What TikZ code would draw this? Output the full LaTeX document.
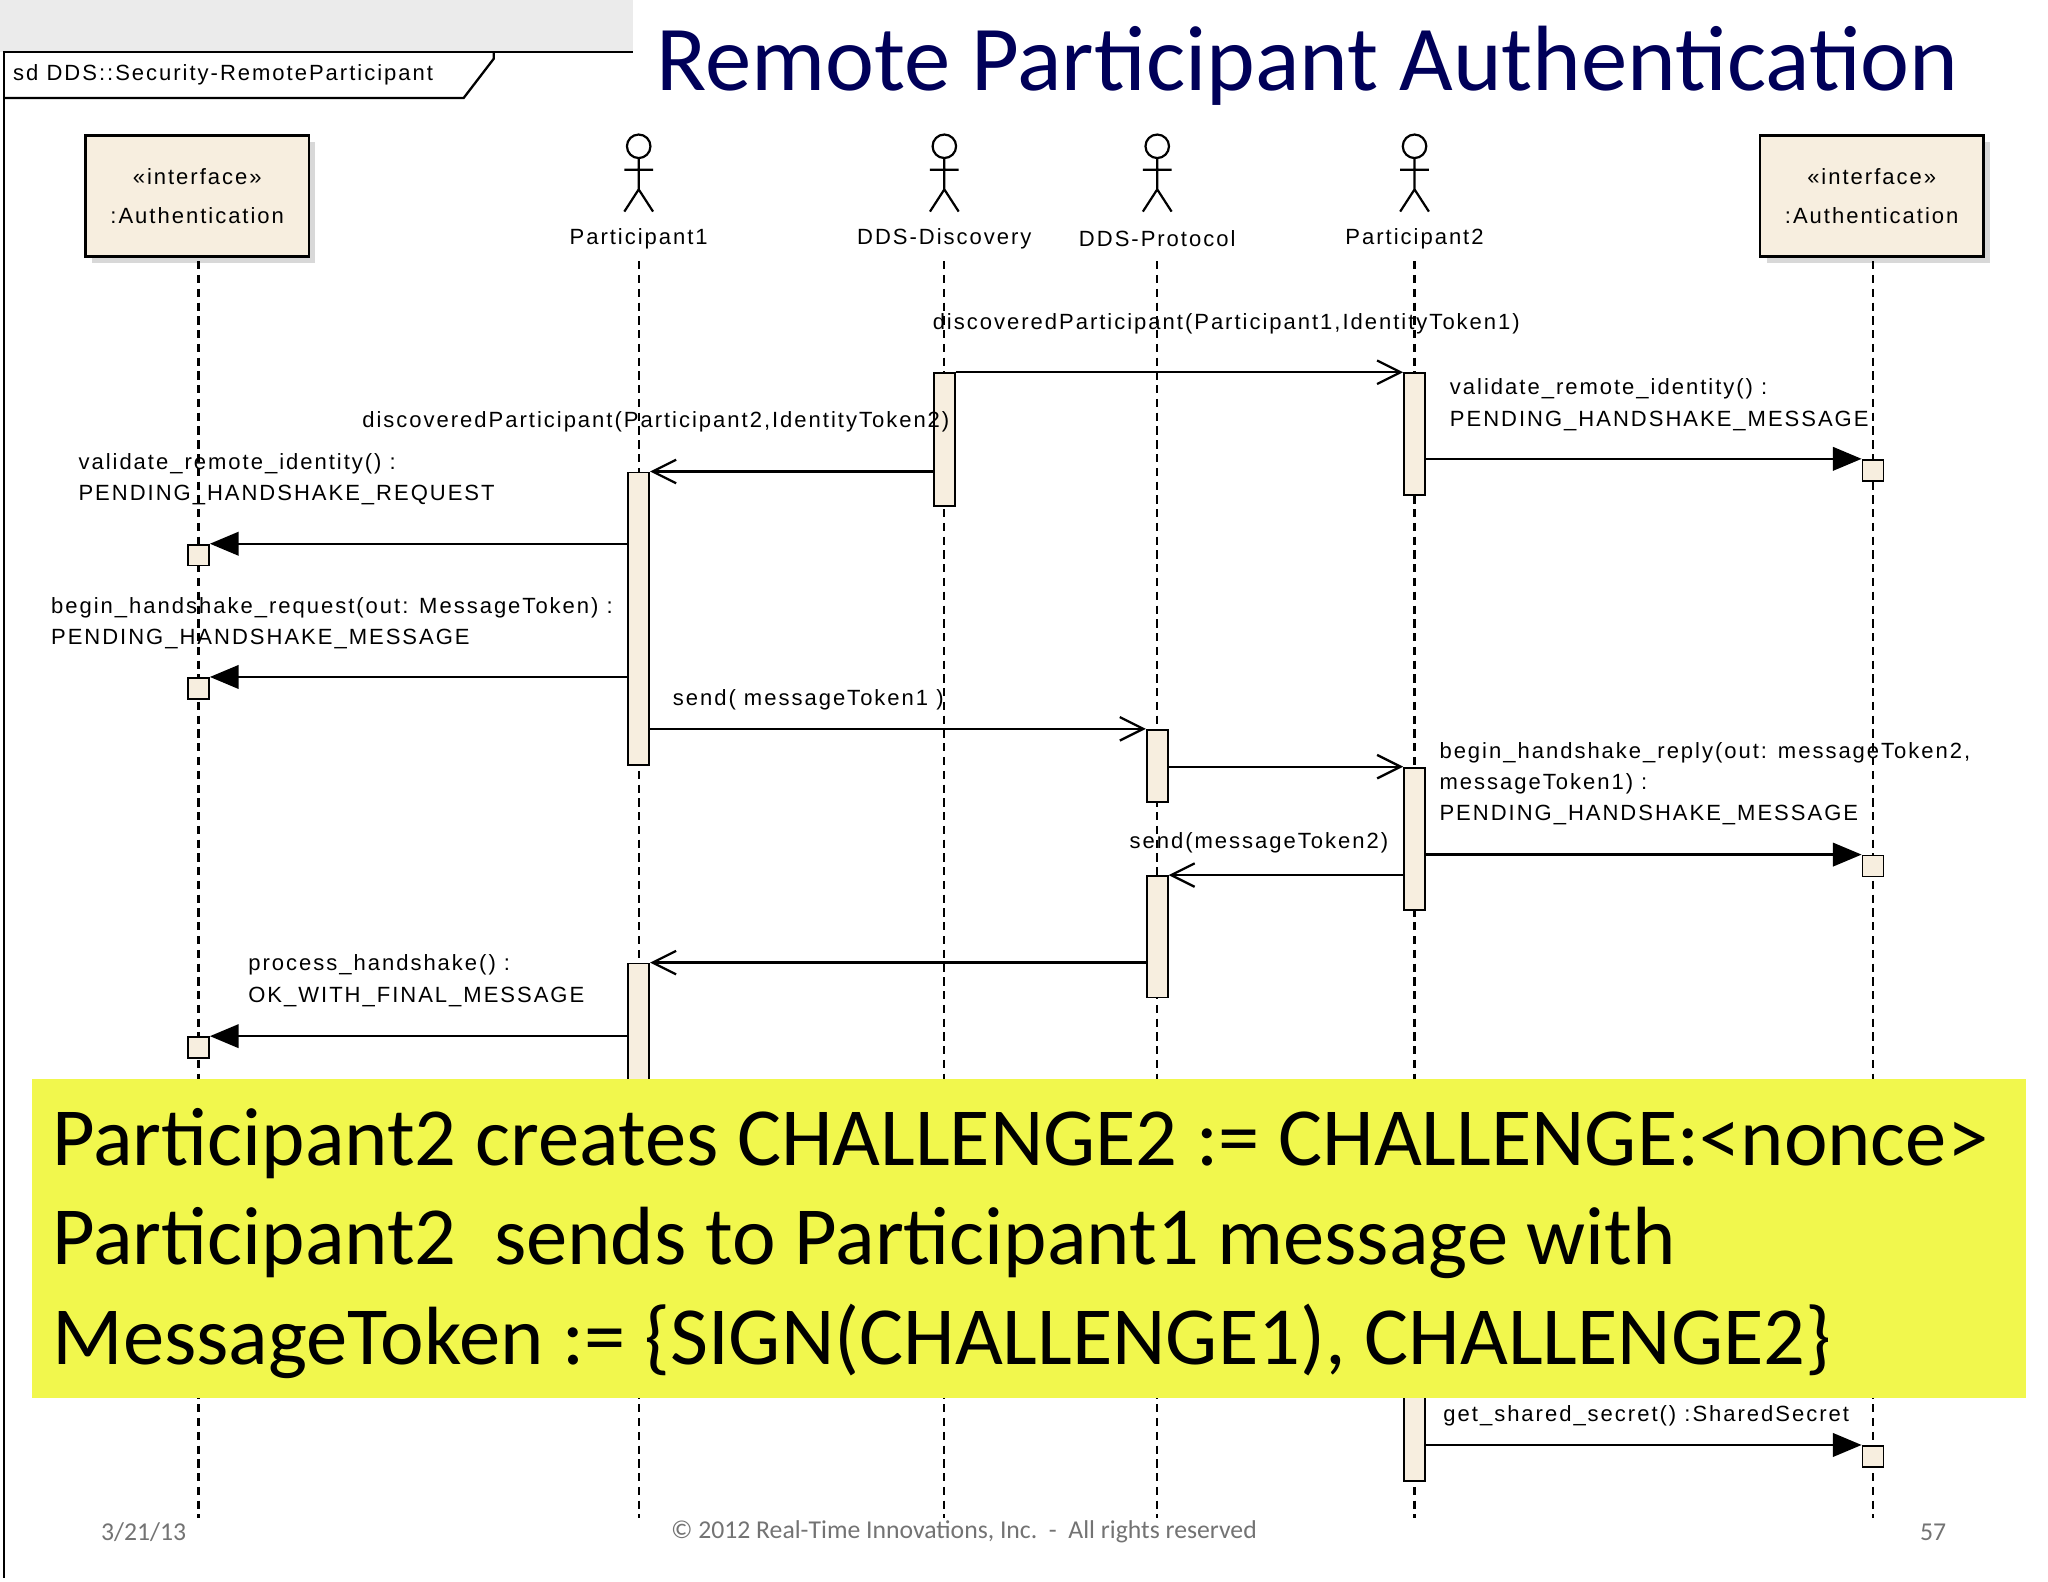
\documentclass[tikz,border=0pt]{standalone}
\usepackage{fontspec}
\setmainfont{Liberation Sans}[LetterSpace=9]
\newfontfamily\titlefont{Carlito}
\usetikzlibrary{arrows.meta,positioning,shadows}
\definecolor{umlfill}{HTML}{F7EEDF}
\definecolor{notefill}{HTML}{F1F74D}
\tikzset{
	lifeline/.style={dash pattern=on 9pt off 6pt, line width=2.4pt},
	actbar/.style={draw, fill=umlfill, line width=2pt, minimum width=0.8cm, inner sep=0pt, anchor=north},
	retbox/.style={draw, fill=umlfill, line width=2pt, minimum size=0.8cm, inner sep=0pt},
	call/.style={line width=2.5pt, -{Straight Barb[length=0.9cm, width=0.9cm]}},
	sync/.style={line width=2.5pt, -{Triangle[length=1.1cm, width=0.9cm]}},
	lbl/.style={font=\fontsize{24}{34}\selectfont, inner sep=0pt, align=left},
	iface/.style={draw, fill=umlfill, line width=3pt, minimum width=8.55cm, minimum height=4.65cm, align=center, font=\fontsize{24}{42}\selectfont, drop shadow={shadow xshift=0.25cm, shadow yshift=-0.25cm, fill=black!30}},
}
\newcommand{\actbar}[4]{\node[actbar, minimum height={(#4-#3)*0.05cm}] (#1) at (#2,#3) {};}
\begin{document}
\begin{tikzpicture}[x=0.05cm, y=-0.05cm]
		\useasboundingbox (0,0) rectangle (1568,1211);
		\fill[white] (0,0) rectangle (1568,1211);
		\fill[black!8] (0,0) rectangle (485,40);
		% Frame
		\draw[line width=2.5pt] (3,1208) -- (3,40) -- (485,40);
		\draw[line width=2.5pt] (3,75) -- (355,75) -- (378,45) -- (378,40);
		\node[lbl, anchor=west] (Frame) at (10,57) {sd DDS::Security-RemoteParticipant};
		\node[font=\titlefont\fontsize{101}{105}\selectfont, text=blue!35!black, anchor=center] (Title) at (1001,50) {Remote Participant Authentication};
		
		% Lifeline heads
		\node[iface] (Auth1) at (151,150) {«interface»\\:Authentication};
		\node[iface] (Auth2) at (1433,150) {«interface»\\:Authentication};
		\foreach \name/\x/\txt in {P1/489/Participant1, Disc/723/DDS-Discovery, Proto/886/DDS-Protocol, P2/1083/Participant2} {
			\draw[line width=2.4pt] (\x,112) circle (9);
			\draw[line width=2.4pt] (\x,121) -- (\x,145) (\x-11,130) -- (\x+11,130) (\x-11,162) -- (\x,145) -- (\x+11,162);
			\node[lbl] (\name) at (\x,183) {\txt};
		}
		% Lifelines
		\foreach \x in {152,489,723,886,1083,1434}
			\draw[lifeline] (\x,200) -- (\x,1162);
		
		% Activations
		\actbar{DiscA}{723}{285}{387}
		\actbar{P2A}{1083}{285}{378}
		\actbar{P1A}{489}{361}{585}
		\actbar{ProtoA}{886}{558}{613}
		\actbar{P2B}{1083}{587}{696}
		\actbar{ProtoB}{886}{670}{763}
		\actbar{P1B}{489}{737}{840}
		\actbar{P2C}{1083}{1050}{1133}
		\node[retbox] (R1) at (1434,360) {};
		\node[retbox] (R2) at (152,425) {};
		\node[retbox] (R3) at (152,527) {};
		\node[retbox] (R4) at (1434,663) {};
		\node[retbox] (R5) at (152,802) {};
		\node[retbox] (R6) at (1434,1115) {};
		
		% Messages
		\draw[call] (DiscA.north east) -- (P2A.north west);
		\node[lbl, anchor=west] (M1) at (714,248) {discoveredParticipant(Participant1,IdentityToken1)};
		\draw[call] (DiscA.west |- P1A.north) -- (P1A.north east);
		\node[lbl, anchor=east] (M2) at (727,323) {discoveredParticipant(Participant2,IdentityToken2)};
		\draw[sync] (P2A.east |- R1.north) -- (R1.north west);
		\node[lbl, anchor=north west] (M3) at (1110,290) {validate\_remote\_identity() :\\PENDING\_HANDSHAKE\_MESSAGE};
		\draw[sync] (P1A.west |- R2.north) -- (R2.north east);
		\node[lbl, anchor=north west] (M4) at (60,347) {validate\_remote\_identity() :\\PENDING\_HANDSHAKE\_REQUEST};
		\draw[sync] (P1A.west |- R3.north) -- (R3.north east);
		\node[lbl, anchor=north west] (M5) at (39,457) {begin\_handshake\_request(out: MessageToken) :\\PENDING\_HANDSHAKE\_MESSAGE};
		\draw[call] (P1A.east |- ProtoA.north) -- (ProtoA.north west);
		\node[lbl, anchor=west] (M6) at (515,536) {send( messageToken1 )};
		\draw[call] (ProtoA.east |- P2B.north) -- (P2B.north west);
		\draw[sync] (P2B.east |- R4.north) -- (R4.north west);
		\node[lbl, anchor=north west] (M8) at (1102,568) {begin\_handshake\_reply(out: messageToken2,\\messageToken1) :\\PENDING\_HANDSHAKE\_MESSAGE};
		\draw[call] (P2B.west |- ProtoB.north) -- (ProtoB.north east);
		\node[lbl, anchor=east] (M9) at (1063,645) {send(messageToken2)};
		\draw[call] (ProtoB.west |- P1B.north) -- (P1B.north east);
		\draw[sync] (P1B.west |- R5.north) -- (R5.north east);
		\node[lbl, anchor=north west] (M11) at (190,731) {process\_handshake() :\\OK\_WITH\_FINAL\_MESSAGE};
		\draw[sync] (P2C.east |- R6.north) -- (R6.north west);
		\node[lbl, anchor=west] (M12) at (1105,1084) {get\_shared\_secret() :SharedSecret};
		
		% Note
		\node[fill=notefill, minimum width=76.35cm, minimum height=12.2cm, anchor=north west] (Note) at (24,826) {};
		\node[anchor=west, align=left, font=\titlefont\fontsize{90}{108}\selectfont, inner sep=0pt] (NoteText) at (40,952)
			{Participant2 creates CHALLENGE2 := CHALLENGE:<nonce>\\Participant2\ \ sends to Participant1 message with\\MessageToken := \{SIGN(CHALLENGE1), CHALLENGE2\}};
		
		% Footer
		\node[font=\titlefont\fontsize{28}{30}\selectfont, text=black!55] (Date) at (110,1173) {3/21/13};
		\node[font=\titlefont\fontsize{28}{30}\selectfont, text=black!55] (Copy) at (738,1173) {© 2012 Real-Time Innovations, Inc.\ \ -\ \ All rights reserved};
		\node[font=\titlefont\fontsize{28}{30}\selectfont, text=black!55] (Page) at (1480,1173) {57};
\end{tikzpicture}
\end{document}
